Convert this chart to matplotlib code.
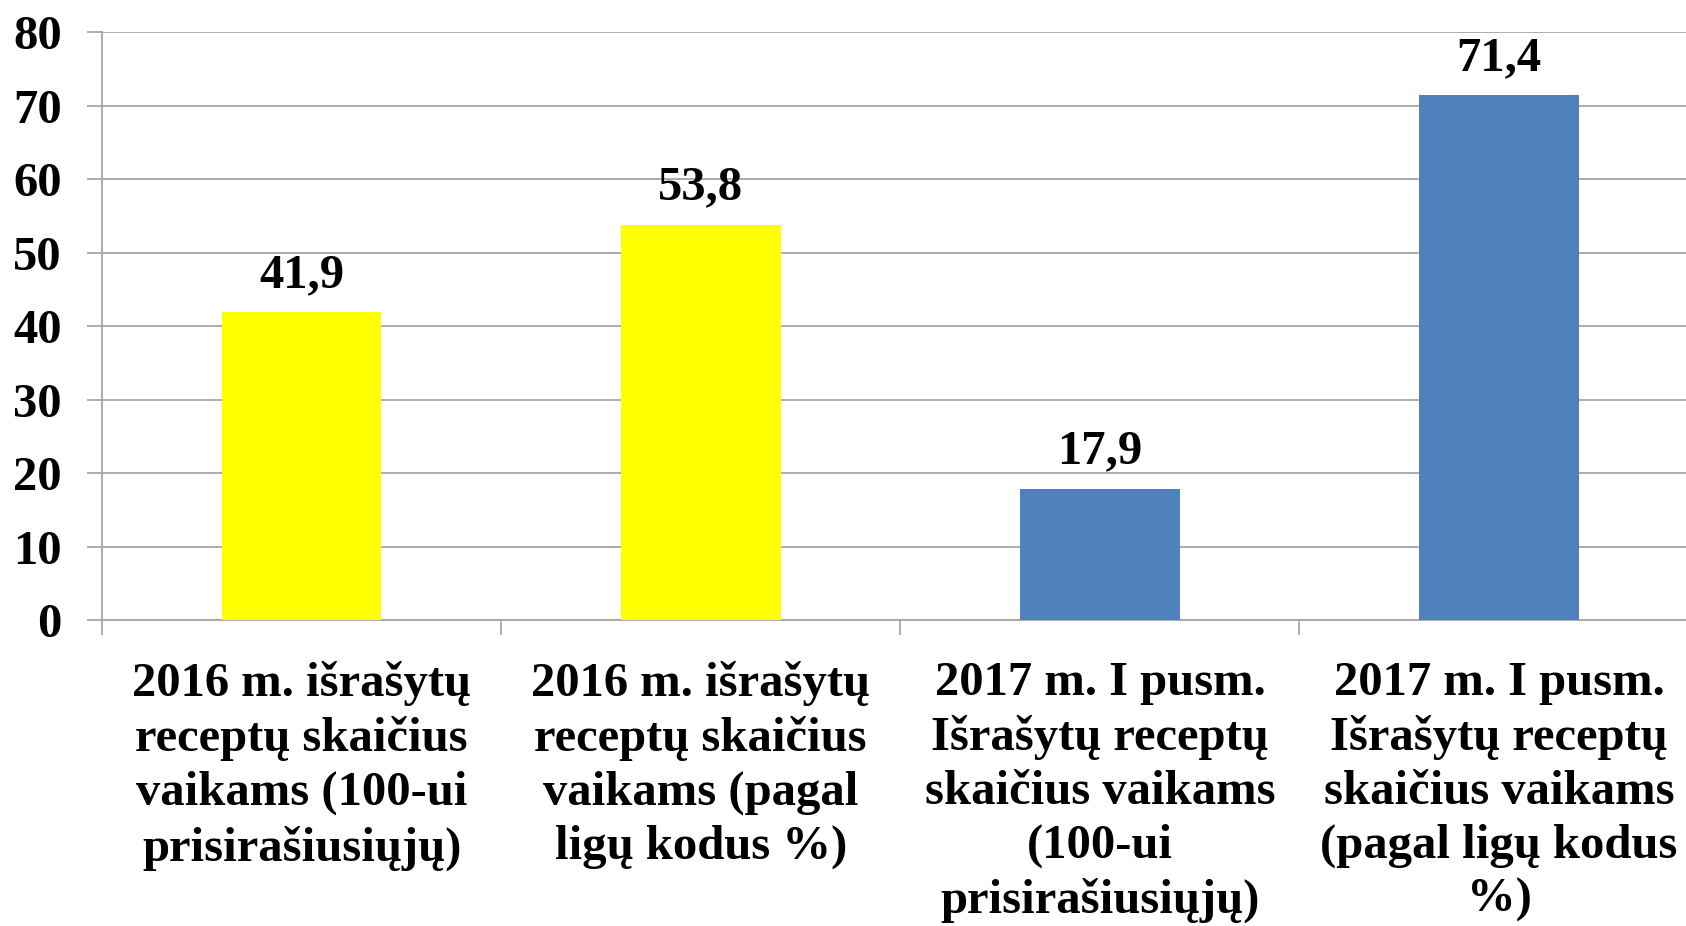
import matplotlib
matplotlib.use("Agg")
import matplotlib.pyplot as plt
import numpy as np

categories = [
    "2016 m. išrašytų\nreceptų skaičius\nvaikams (100-ui\nprisirašiusiųjų)",
    "2016 m. išrašytų\nreceptų skaičius\nvaikams (pagal\nligų kodus %)",
    "2017 m. I pusm.\nIšrašytų receptų\nskaičius vaikams\n(100-ui\nprisirašiusiųjų)",
    "2017 m. I pusm.\nIšrašytų receptų\nskaičius vaikams\n(pagal ligų kodus\n%)",
]
values = [41.9, 53.8, 17.9, 71.4]
value_labels = ["41,9", "53,8", "17,9", "71,4"]
colors = ["#FFFF00", "#FFFF00", "#4F81BD", "#4F81BD"]
yticks = [0, 10, 20, 30, 40, 50, 60, 70, 80]

plt.rcParams['font.family'] = ['Liberation Serif', 'DejaVu Serif']
plt.rcParams['font.weight'] = 'bold'

fig = plt.figure(figsize=(16.86, 9.26), dpi=100)
ax = fig.add_axes([0.0605, 0.330, 0.947, 0.6355])

x = np.arange(len(values))
ax.bar(x, values, width=0.4, color=colors, zorder=3)
for xi, v, lab in zip(x, values, value_labels):
    ax.annotate(lab, (xi, v), xytext=(0, 11), textcoords='offset points',
                ha='center', va='bottom', fontsize=35, fontweight='bold')

ax.set_xlim(-0.5, len(values) - 0.5)
ax.set_ylim(0, 80)
ax.set_yticks(yticks)
ax.set_yticklabels([str(t) for t in yticks], fontsize=35, fontweight='bold')
ax.yaxis.grid(True, color='#A6A6A6', linewidth=1.3, zorder=0)
ax.tick_params(axis='y', length=11, width=1.3, color='#A6A6A6', pad=18)

ax.set_xticks(x)
ax.set_xticklabels(categories, fontsize=35, fontweight='bold', linespacing=1.29)
ax.set_xticks(np.arange(-0.5, len(values)), minor=True)
ax.tick_params(axis='x', which='major', length=0, pad=29)
ax.tick_params(axis='x', which='minor', length=11, width=1.3, color='#A6A6A6')

for s in ['top', 'right']:
    ax.spines[s].set_visible(False)
for s in ['left', 'bottom']:
    ax.spines[s].set_color('#A6A6A6')
    ax.spines[s].set_linewidth(1.3)

fig.savefig("out.png", dpi=100)
